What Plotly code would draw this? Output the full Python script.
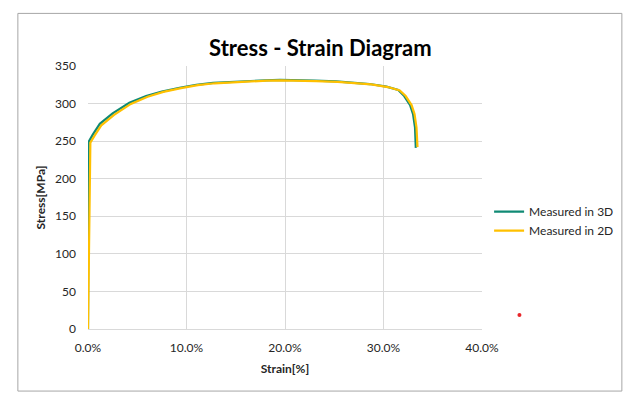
import plotly.graph_objects as go

# strain as fraction, stress in MPa
strain_3d = [0.0, 0.0007, 0.005, 0.012, 0.025, 0.042, 0.059, 0.075, 0.093, 0.110,
             0.127, 0.145, 0.161, 0.180, 0.195, 0.210, 0.230, 0.252, 0.270, 0.286,
             0.303, 0.315, 0.321, 0.327, 0.330, 0.332, 0.3328]
stress_3d = [0, 249, 259, 273, 287, 301, 310, 316, 321, 325,
             327.5, 329, 330, 331, 331.5, 331.5, 330.5, 329.5, 328, 326,
             322.5, 318, 310, 298, 286, 268, 241]

strain_2d = [0.0, 0.0024, 0.0065, 0.0135, 0.0265, 0.0435, 0.0605, 0.0765, 0.0945, 0.1115,
             0.1285, 0.1465, 0.1625, 0.1815, 0.1965, 0.2115, 0.2315, 0.2535, 0.2715, 0.2875,
             0.3045, 0.3165, 0.3225, 0.3285, 0.3315, 0.3335, 0.3345]
stress_2d = [0, 248, 257, 271, 285, 299.5, 309, 315.5, 320.5, 324.5,
             327, 328.5, 329.5, 330.5, 331, 331, 330, 329, 327.5, 325.5,
             322, 317.5, 310, 298, 286, 268, 242]

# small stray red dot outside the plot area (in axis units)
stray_x = [0.438]
stray_y = [18.5]

x_range = [0, 0.4]
y_range = [0, 350]
x_ticks = [0.0, 0.1, 0.2, 0.3, 0.4]
y_ticks = [0, 50, 100, 150, 200, 250, 300, 350]

font_name = "Lato"
grid_col = "#D9D9D9"
text_col = "#262626"

fig = go.Figure()
fig.add_trace(go.Scatter(x=strain_3d, y=stress_3d, mode="lines", name="Measured in 3D",
                         line=dict(color="#108A74", width=2.2)))
fig.add_trace(go.Scatter(x=strain_2d, y=stress_2d, mode="lines", name="Measured in 2D",
                         line=dict(color="#FFC000", width=2.2)))

fig.update_xaxes(range=x_range, tickvals=x_ticks, tickformat=".1%",
                 showgrid=True, gridcolor=grid_col, gridwidth=1,
                 showline=True, linecolor=grid_col, linewidth=1, zeroline=False,
                 ticks="", ticklabelstandoff=8,
                 tickfont=dict(family=font_name, size=12, color=text_col),
                 title=dict(text="<b>Strain[%]</b>", standoff=10,
                            font=dict(family=font_name, size=12, color=text_col)))
fig.update_yaxes(range=y_range, tickvals=y_ticks,
                 showgrid=True, gridcolor=grid_col, gridwidth=1,
                 showline=False, zeroline=False, ticks="", ticklabelstandoff=11,
                 tickfont=dict(family=font_name, size=12, color=text_col),
                 title=dict(text="<b>Stress[MPa]</b>", standoff=6,
                            font=dict(family=font_name, size=12, color=text_col)))

# the stray dot lies outside the axes, so place it in paper units
shapes = [dict(type="rect", xref="paper", yref="paper",
               x0=-0.178, x1=1.355, y0=-0.236, y1=1.2,
               line=dict(color="#A6A6A6", width=1))]
for sx, sy in zip(stray_x, stray_y):
    px = (sx - x_range[0]) / (x_range[1] - x_range[0])
    py = (sy - y_range[0]) / (y_range[1] - y_range[0])
    shapes.append(dict(type="circle", xref="paper", yref="paper",
                       xsizemode="pixel", ysizemode="pixel", xanchor=px, yanchor=py,
                       x0=-2, x1=2, y0=-2, y1=2,
                       fillcolor="#E8262A", line=dict(width=0)))

fig.update_layout(
    width=631, height=400,
    margin=dict(l=80, r=157, t=58, b=79),
    paper_bgcolor="white", plot_bgcolor="white",
    title=dict(text="<b>Stress - Strain Diagram</b>", x=0.495, xanchor="center",
               y=0.9, yanchor="middle",
               font=dict(family=font_name, size=22, color="black")),
    legend=dict(x=1.018, y=0.41, xanchor="left", yanchor="middle",
                font=dict(family=font_name, size=12, color=text_col),
                bgcolor="rgba(0,0,0,0)", itemwidth=30),
    showlegend=True,
    shapes=shapes,
)

fig.write_html("out.html")
